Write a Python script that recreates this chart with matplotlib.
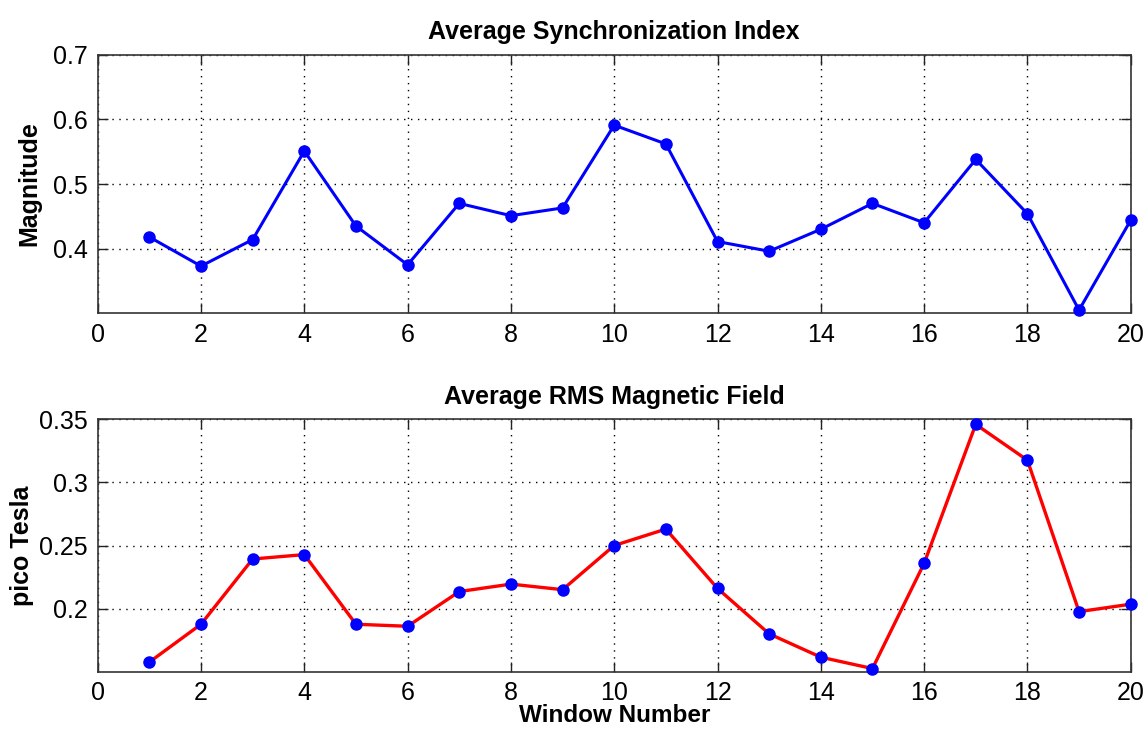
import matplotlib
matplotlib.use("Agg")
import matplotlib.pyplot as plt

windows = list(range(1, 21))
sync_index = [0.418, 0.373, 0.414, 0.551, 0.435, 0.375, 0.470, 0.451, 0.463, 0.591,
              0.562, 0.411, 0.396, 0.430, 0.470, 0.440, 0.538, 0.454, 0.305, 0.444]
rms_field = [0.1576, 0.1876, 0.2393, 0.2428, 0.1876, 0.186, 0.2135, 0.2194, 0.215, 0.250,
             0.263, 0.216, 0.180, 0.1615, 0.1525, 0.2358, 0.346, 0.3176, 0.1976, 0.2035]

xticks = list(range(0, 21, 2))
top_yticks = [0.4, 0.5, 0.6, 0.7]
top_ytick_labels = ["0.4", "0.5", "0.6", "0.7"]
bot_yticks = [0.2, 0.25, 0.3, 0.35]
bot_ytick_labels = ["0.2", "0.25", "0.3", "0.35"]

plt.rcParams['font.family'] = ['Liberation Sans', 'DejaVu Sans']

fig = plt.figure(figsize=(11.45, 7.29), dpi=100)
W, H = 1145, 729
left = 97.7 / W
width = (1130.7 - 97.7) / W
ax1 = fig.add_axes([left, 1 - 313.3 / H, width, (313.3 - 54.7) / H])
ax2 = fig.add_axes([left, 1 - 671.7 / H, width, (671.7 - 419.3) / H])

def style(ax):
    ax.set_xlim(0, 20)
    ax.set_xticks(xticks)
    ax.grid(True, color='black', linestyle=(0, (1, 4)), linewidth=1.0)
    ax.tick_params(direction='in', length=7, width=1.0, top=True, right=True,
                   labelsize=18, pad=7, colors='#222222', labelcolor='black')
    for s in ax.spines.values():
        s.set_linewidth(1.2)
        s.set_color('#333333')

ax1.plot(windows, sync_index, '-', color='#0000ff', linewidth=2.2,
         marker='o', markersize=8, markerfacecolor='#0000ff', markeredgecolor='#0000ff',
         clip_on=False, zorder=5)
ax1.set_ylim(0.3, 0.7)
ax1.set_yticks(top_yticks)
ax1.set_yticklabels(top_ytick_labels)
style(ax1)
ax1.set_title("Average Synchronization Index", fontsize=18, fontweight='bold', pad=11)
ax1.set_ylabel("Magnitude", fontsize=18, fontweight='bold')
ax1.yaxis.set_label_coords(-0.055, 0.5)

ax2.plot(windows, rms_field, '-', color='#ff0000', linewidth=2.4,
         marker='o', markersize=8, markerfacecolor='#0000ff', markeredgecolor='#0000ff',
         clip_on=False, zorder=5)
ax2.set_ylim(0.15, 0.35)
ax2.set_yticks(bot_yticks)
ax2.set_yticklabels(bot_ytick_labels)
style(ax2)
ax2.set_title("Average RMS Magnetic Field", fontsize=18, fontweight='bold', pad=11)
ax2.set_ylabel("pico Tesla", fontsize=18, fontweight='bold')
ax2.yaxis.set_label_coords(-0.062, 0.5)
ax2.set_xlabel("Window Number", fontsize=17.5, fontweight='bold', labelpad=-1)

fig.savefig("out.png", dpi=100)
